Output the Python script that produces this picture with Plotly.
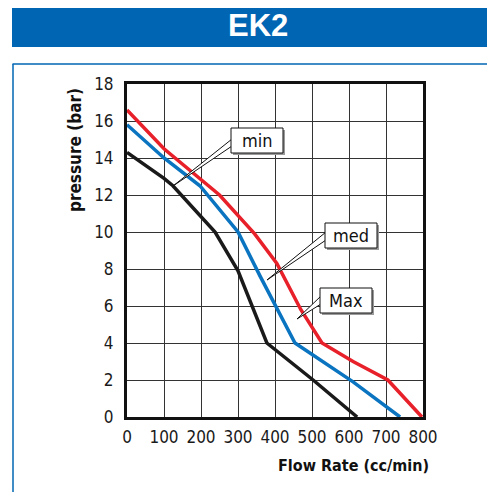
import plotly.graph_objects as go

# ---- data ----
max_x = [0, 100, 250, 300, 345, 405, 470, 527, 611, 705, 797]
max_y = [16.6, 14.5, 12.0, 10.9, 9.9, 8.3, 5.8, 4.0, 3.0, 2.0, 0.0]

med_x = [0, 100, 197, 300, 360, 454, 611, 738]
med_y = [15.8, 14.0, 12.5, 10.0, 7.6, 4.0, 1.9, 0.0]

min_x = [0, 100, 124, 238, 300, 378, 503, 622]
min_y = [14.3, 12.9, 12.5, 10.0, 7.9, 4.0, 2.0, 0.0]

x_ticks = [0, 100, 200, 300, 400, 500, 600, 700, 800]
y_ticks = [0, 2, 4, 6, 8, 10, 12, 14, 16, 18]

OFF = 8  # page body margin
W, H = 495 - OFF, 492 - OFF
L, R, T, B = 127 - OFF, 423 - OFF, 84 - OFF, 417 - OFF
PW, PH = R - L, B - T

NARROW = "DejaVu Sans Condensed, Roboto Condensed, Liberation Sans Narrow, Roboto, sans-serif"


def px(x):
    return (x - OFF - L) / PW


def py(y):
    return (B - (y - OFF)) / PH


fig = go.Figure()
fig.add_trace(go.Scatter(x=min_x, y=min_y, mode="lines", name="min",
                         line=dict(color="#1a1a1a", width=3.5)))
fig.add_trace(go.Scatter(x=med_x, y=med_y, mode="lines", name="med",
                         line=dict(color="#0a74c0", width=3.5)))
fig.add_trace(go.Scatter(x=max_x, y=max_y, mode="lines", name="Max",
                         line=dict(color="#e8202a", width=3.5)))

tick_font = dict(family=NARROW, size=17, color="#1a1a1a")
axis_common = dict(showgrid=True, gridcolor="#333333", gridwidth=1.4,
                   showline=True, linecolor="#111", linewidth=3, mirror=True,
                   zeroline=False, ticks="", tickfont=tick_font)

fig.update_xaxes(range=[0, 800], tickvals=x_ticks, ticktext=[str(v) for v in x_ticks],
                 ticklabelstandoff=3, **axis_common)
fig.update_yaxes(range=[0, 18], tickvals=y_ticks, ticktext=[str(v) for v in y_ticks],
                 ticklabelstandoff=7, **axis_common)

shapes = []
# title bar
shapes.append(dict(type="rect", xref="paper", yref="paper",
                   x0=px(12), x1=px(500), y0=py(47), y1=py(4),
                   fillcolor="#0066b3", line=dict(width=0), layer="below"))
# blue frame lines
shapes.append(dict(type="line", xref="paper", yref="paper",
                   x0=px(12.5), x1=px(500), y0=py(64), y1=py(64),
                   line=dict(color="#0066b3", width=1.5)))
shapes.append(dict(type="line", xref="paper", yref="paper",
                   x0=px(13), x1=px(13), y0=py(64), y1=py(500),
                   line=dict(color="#0066b3", width=1.5)))

labels = [
    # text, box (x0,y0,x1,y1), wedge base (x, ya, yb), tip
    ("min", (231, 128, 283, 153), (232, 139, 146), (173, 186)),
    ("med", (325, 223, 377, 248), (326, 232, 240), (267, 280)),
    ("Max", (320, 288, 372, 313), (321, 296, 304), (297, 319)),
]
annotations = []
for text, (bx0, by0, bx1, by1), (wx, wya, wyb), (tx, ty) in labels:
    # shadow
    shapes.append(dict(type="rect", xref="paper", yref="paper",
                       x0=px(bx0 + 2), x1=px(bx1 + 2), y0=py(by1 + 2), y1=py(by0 + 2),
                       fillcolor="#9a9a9a", line=dict(width=0), layer="above"))
    # wedge pointer
    path = "M {} {} L {} {} L {} {} Z".format(px(wx), py(wya), px(tx), py(ty), px(wx), py(wyb))
    shapes.append(dict(type="path", xref="paper", yref="paper", path=path,
                       fillcolor="white", line=dict(color="#111", width=1), layer="above"))
    # box
    shapes.append(dict(type="rect", xref="paper", yref="paper",
                       x0=px(bx0), x1=px(bx1), y0=py(by1), y1=py(by0),
                       fillcolor="white", line=dict(color="#111", width=1), layer="above"))
    annotations.append(dict(text=text, xref="paper", yref="paper",
                            x=px((bx0 + bx1) / 2), y=py((by0 + by1) / 2),
                            showarrow=False, xanchor="center", yanchor="middle",
                            font=dict(family=NARROW, size=18, color="#111")))

annotations.append(dict(text="<b>EK2</b>", xref="paper", yref="paper",
                        x=px(258), y=py(26), showarrow=False,
                        xanchor="center", yanchor="middle",
                        font=dict(family="Liberation Sans", size=31, color="white")))
annotations.append(dict(text="<b>pressure (bar)</b>", xref="paper", yref="paper",
                        x=px(75), y=py(150), showarrow=False, textangle=-90,
                        xanchor="center", yanchor="middle",
                        font=dict(family=NARROW, size=17, color="#111")))
annotations.append(dict(text="<b>Flow Rate (cc/min)</b>", xref="paper", yref="paper",
                        x=px(353), y=py(465), showarrow=False,
                        xanchor="center", yanchor="middle",
                        font=dict(family=NARROW, size=16, color="#111")))

fig.update_layout(width=W, height=H,
                  margin=dict(l=L, r=W - R, t=T, b=H - B, pad=0),
                  paper_bgcolor="white", plot_bgcolor="white",
                  showlegend=False, shapes=shapes, annotations=annotations)

fig.write_html("out.html")
